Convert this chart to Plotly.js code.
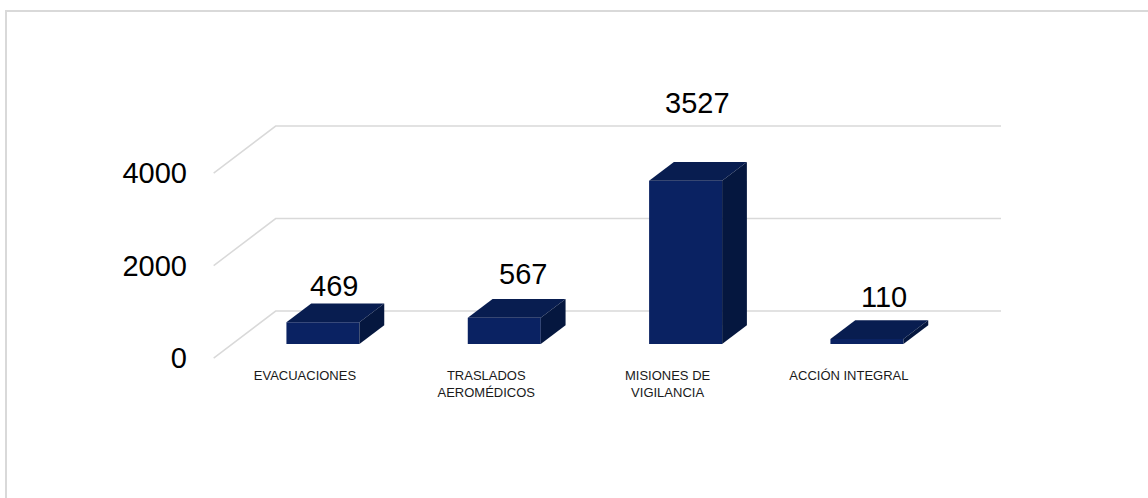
<!DOCTYPE html>
<html>
<head>
<meta charset="utf-8">
<script src="https://cdn.plot.ly/plotly-3.0.1.min.js"></script>
<style>
html, body { margin: 0; padding: 0; background: #fff; }
#chart { position: absolute; left: 0; top: 0; width: 1148px; height: 498px; }
#frame { position: absolute; left: 5px; top: 10px; width: 1143px; height: 488px;
         border-top: 2px solid #d9d9d9; border-left: 2px solid #d9d9d9; pointer-events: none; }
</style>
</head>
<body>
<div id="chart"></div>
<div id="frame"></div>
<script>
var categories = ['EVACUACIONES', 'TRASLADOS<br>AEROMÉDICOS', 'MISIONES DE<br>VIGILANCIA', 'ACCIÓN INTEGRAL'];
var values = [469, 567, 3527, 110];
var gridValues = [0, 2000, 4000];

// excel puts the 3d data labels a bit unevenly, px offsets from the front top
var labelDx = [11, 19, 12, 17];
var labelDy = [25, 33, 67, 31];

var W = 1148, H = 498;
var mL = 196, mR = 136, mT = 60, mB = 134;
var xRange = [-0.7, 3.8], yRange = [-432, 6140];
var pxX = (W - mL - mR) / (xRange[1] - xRange[0]);
var pxY = (H - mT - mB) / (yRange[1] - yRange[0]);

// fake perspective: floor depth in px turned into axis units
var depthX = 62 / pxX, depthY = 47 / pxY;
var floorFront = -0.3, floorBack = 0.7;   // bars sit on 0 .. 0.4
var barDepth = 0.4;
var barW = 73 / pxX;

var frontColor = '#0a2262', topColor = '#081d50', sideColor = '#05173f';

function pt(x, y) { return x + ',' + y; }

var shapes = [];
var xl = -0.5, xr = categories.length - 0.5;
gridValues.forEach(function (g) {
    shapes.push({
        type: 'path', xref: 'x', yref: 'y', layer: 'below',
        path: 'M' + pt(xl + floorFront * depthX, g + floorFront * depthY) +
              'L' + pt(xl + floorBack * depthX, g + floorBack * depthY) +
              'L' + pt(xr + floorBack * depthX, g + floorBack * depthY),
        line: {color: '#d9d9d9', width: 1.5}
    });
});

var bdx = barDepth * depthX, bdy = barDepth * depthY;
var annotations = [];
values.forEach(function (v, i) {
    var x0 = i - barW / 2, x1 = i + barW / 2;
    // top face
    shapes.push({
        type: 'path', xref: 'x', yref: 'y', layer: 'above',
        path: 'M' + pt(x0, v) + 'L' + pt(x1, v) + 'L' + pt(x1 + bdx, v + bdy) +
              'L' + pt(x0 + bdx, v + bdy) + 'Z',
        fillcolor: topColor, line: {width: 0}
    });
    // right side face
    shapes.push({
        type: 'path', xref: 'x', yref: 'y', layer: 'above',
        path: 'M' + pt(x1, 0) + 'L' + pt(x1, v) + 'L' + pt(x1 + bdx, v + bdy) +
              'L' + pt(x1 + bdx, bdy) + 'Z',
        fillcolor: sideColor, line: {width: 0}
    });
    annotations.push({
        x: i, y: v, xref: 'x', yref: 'y',
        text: String(v), showarrow: false,
        xanchor: 'center', yanchor: 'bottom',
        xshift: labelDx[i], yshift: labelDy[i] - 7,
        font: {size: 29, color: '#000'}
    });
});

var bars = {
    type: 'bar',
    x: categories.map(function (c, i) { return i; }),
    y: values,
    width: barW,
    marker: {color: frontColor, line: {width: 0}},
    hoverinfo: 'none',
    showlegend: false
};

// empty trace so the shifted tick axis gets drawn
var tickHolder = {
    type: 'scatter', mode: 'none',
    x: [0], y: [0], yaxis: 'y2',
    hoverinfo: 'skip', showlegend: false
};

var layout = {
    width: W, height: H,
    margin: {l: mL, r: mR, t: mT, b: mB},
    paper_bgcolor: '#fff', plot_bgcolor: '#fff',
    font: {family: '"Liberation Sans", Arial, sans-serif', color: '#000'},
    showlegend: false,
    xaxis: {
        range: xRange, tickmode: 'array',
        tickvals: categories.map(function (c, i) { return i; }),
        ticktext: categories,
        showgrid: false, zeroline: false, showline: false, ticks: '',
        ticklabelshift: -18, ticklabelstandoff: 2,
        tickfont: {size: 13, color: '#1a1a1a'}
    },
    yaxis: {
        range: yRange, showgrid: false, zeroline: false,
        showline: false, showticklabels: false, ticks: ''
    },
    yaxis2: {
        overlaying: 'y', side: 'left', anchor: 'x',
        range: [yRange[0] - floorFront * depthY, yRange[1] - floorFront * depthY],
        tickmode: 'array', tickvals: gridValues,
        showgrid: false, zeroline: false, showline: false, ticks: '',
        ticklabelstandoff: 8,
        tickfont: {size: 29, color: '#000'}
    },
    shapes: shapes,
    annotations: annotations
};

Plotly.newPlot('chart', [bars, tickHolder], layout, {displayModeBar: false, staticPlot: true});
</script>
</body>
</html>
